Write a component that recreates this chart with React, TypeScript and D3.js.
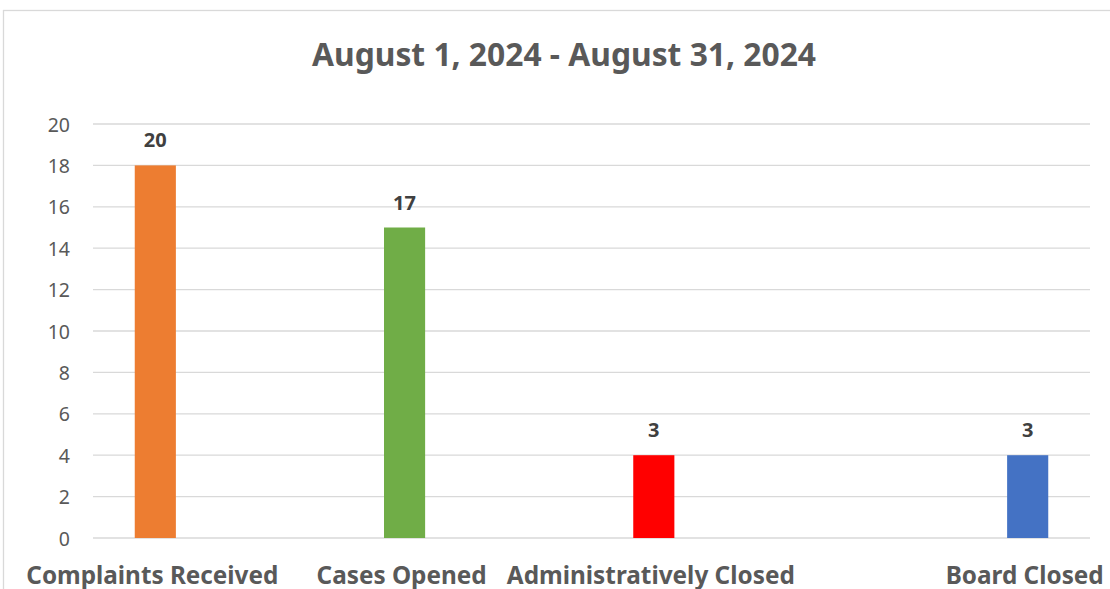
import * as d3 from "d3";

const WIDTH = 1110;
const HEIGHT = 589;
const MARGIN = { top: 124, right: 20, bottom: 51, left: 93 };

// category slots on the x axis; the gap entries are empty slots left in the source chart
const axisSlots = [
  "Complaints Received",
  "gap-1",
  "Cases Opened",
  "gap-2",
  "Administratively Closed",
  "gap-3",
  "gap-4",
  "Board Closed",
];
const categories = [
  "Complaints Received",
  "Cases Opened",
  "Administratively Closed",
  "Board Closed",
];
// bar heights as drawn, and the data labels printed over them
const barValues = [18, 15, 4, 4];
const barLabels = ["20", "17", "3", "3"];
const barColors = ["#ED7D31", "#70AD47", "#FF0000", "#4472C4"];
// label widths (Calibri is not available)
const labelWidths = [252, 170, 288, 158];
const yTicks = [0, 2, 4, 6, 8, 10, 12, 14, 16, 18, 20];
const title = "August 1, 2024 - August 31, 2024";

const FONT = "'Noto Sans', 'Open Sans', sans-serif";

export default function App() {
  const boundsWidth = WIDTH - MARGIN.left - MARGIN.right;
  const boundsHeight = HEIGHT - MARGIN.top - MARGIN.bottom;

  const xScale = d3
    .scaleBand()
    .domain(axisSlots)
    .range([0, boundsWidth])
    .padding(0);

  const yScale = d3.scaleLinear().domain([0, 20]).range([boundsHeight, 0]);

  const barWidth = xScale.bandwidth() * 0.33;

  const grid = yTicks.map((t) => (
    <g key={t}>
      <line
        x1={0}
        x2={boundsWidth}
        y1={yScale(t)}
        y2={yScale(t)}
        stroke="#D9D9D9"
        strokeWidth={1.3}
      />
      <text
        x={-23}
        y={yScale(t)}
        textAnchor="end"
        dominantBaseline="central"
        fontSize={19.5}
        fill="#595959"
        fontFamily={FONT}
      >
        {t}
      </text>
    </g>
  ));

  const bars = categories.map((c, i) => {
    const cx = (xScale(c) ?? 0) + xScale.bandwidth() / 2;
    const top = yScale(barValues[i]);
    return (
      <g key={c}>
        <rect
          x={cx - barWidth / 2}
          y={top}
          width={barWidth}
          height={boundsHeight - top}
          fill={barColors[i]}
        />
        <text
          x={cx}
          y={top - 18}
          textAnchor="middle"
          fontSize={20}
          fontWeight="bold"
          fill="#404040"
          fontFamily={FONT}
        >
          {barLabels[i]}
        </text>
        <text
          x={cx - 3}
          y={boundsHeight + 46}
          textAnchor="middle"
          fontSize={24.5}
          fontWeight="bold"
          fill="#595959"
          fontFamily={FONT}
          textLength={labelWidths[i]}
          lengthAdjust="spacingAndGlyphs"
        >
          {c}
        </text>
      </g>
    );
  });

  return (
    <div style={{ position: "absolute", left: 0, top: 0 }}>
      <svg width={WIDTH} height={HEIGHT} style={{ display: "block" }}>
        <rect x={0} y={0} width={WIDTH} height={HEIGHT} fill="#FFFFFF" />
        <rect
          x={3.5}
          y={10.5}
          width={WIDTH + 20}
          height={HEIGHT + 20}
          fill="none"
          stroke="#D9D9D9"
          strokeWidth={1.3}
        />
        <text
          x={564}
          y={66}
          textAnchor="middle"
          fontSize={32.5}
          fontWeight="bold"
          fill="#595959"
          fontFamily={FONT}
          textLength={504}
          lengthAdjust="spacingAndGlyphs"
        >
          {title}
        </text>
        <g transform={`translate(${MARGIN.left},${MARGIN.top})`}>
          {grid}
          {bars}
        </g>
      </svg>
    </div>
  );
}
